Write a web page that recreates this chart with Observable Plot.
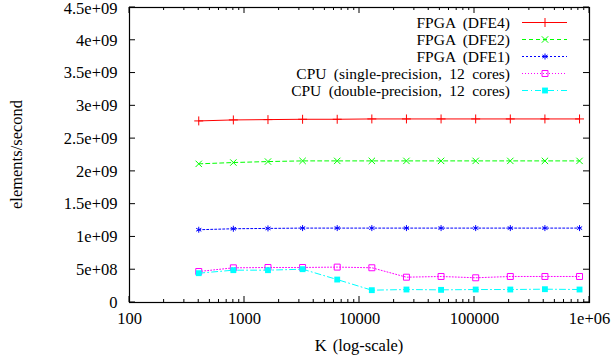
<!DOCTYPE html>
<html><head><meta charset="utf-8">
<script src="https://cdn.jsdelivr.net/npm/d3@7"></script>
<script src="https://cdn.jsdelivr.net/npm/@observablehq/plot@0.6"></script>
<style>body{margin:0;background:#fff}</style>
</head><body><div id="chart"></div>
<script>
const K = [400, 800, 1600, 3200, 6400, 12800, 25600, 51200, 102400, 204800, 409600, 819200];
const dfe4 = [2.77, 2.785, 2.79, 2.795, 2.795, 2.80, 2.80, 2.80, 2.80, 2.80, 2.80, 2.80];
const dfe2 = [2.115, 2.135, 2.15, 2.16, 2.16, 2.16, 2.16, 2.16, 2.16, 2.16, 2.16, 2.16];
const dfe1 = [1.11, 1.125, 1.13, 1.135, 1.135, 1.135, 1.135, 1.135, 1.135, 1.135, 1.135, 1.135];
const cpuSingle = [0.473, 0.529, 0.534, 0.534, 0.54, 0.53, 0.386, 0.397, 0.377, 0.397, 0.397, 0.397];
const cpuDouble = [0.447, 0.493, 0.493, 0.508, 0.35, 0.188, 0.198, 0.193, 0.198, 0.198, 0.203, 0.198];
const seriesNames = ["FPGA (DFE4)", "FPGA (DFE2)", "FPGA (DFE1)", "CPU (single-precision, 12 cores)", "CPU (double-precision, 12 cores)"];
const seriesValues = [dfe4, dfe2, dfe1, cpuSingle, cpuDouble];
const seriesColors = ["#ff0000", "#00ff00", "#0000ff", "#ff00ff", "#00ffff"];
const seriesDash = [null, "4,3", "2,2", "1,2", "6,3,1,3"];
const seriesSymbols = ["plus", "times", "asterisk", "square2", "square"];
const seriesR = [3, 3, 2.8, 3.8, 3.3];
const xTicks = [100, 1000, 10000, 100000, 1000000];
const xTickLabels = ["100", "1000", "10000", "100000", "1e+06"];
const yTicks = [0, 0.5e9, 1e9, 1.5e9, 2e9, 2.5e9, 3e9, 3.5e9, 4e9, 4.5e9];
const yTickLabels = ["0", "5e+08", "1e+09", "1.5e+09", "2e+09", "2.5e+09", "3e+09", "3.5e+09", "4e+09", "4.5e+09"];
const xMinor = [];
for (const d of [100, 1000, 10000, 100000]) for (let m = 2; m <= 9; m++) xMinor.push(d * m);

const FONT = "Liberation Serif", FS = 16.5, LFS = 15.5;
const marks = [];
seriesNames.forEach((name, i) => {
  const data = K.map((k, j) => ({k, v: seriesValues[i][j] * 1e9}));
  marks.push(Plot.line(data, {x: "k", y: "v", stroke: seriesColors[i], strokeWidth: 1, strokeDasharray: seriesDash[i] || undefined}));
  const filled = seriesSymbols[i] === "square";
  marks.push(Plot.dot(data, filled
    ? {x: "k", y: "v", symbol: seriesSymbols[i], fill: seriesColors[i], r: seriesR[i]}
    : {x: "k", y: "v", symbol: seriesSymbols[i], stroke: seriesColors[i], strokeWidth: 1, r: seriesR[i]}));
});

const W = 613, H = 360, mL = 129, mR = 24, mT = 7, mB = 58;
const svg = Plot.plot({
  width: W, height: H,
  marginLeft: mL, marginRight: mR, marginTop: mT, marginBottom: mB,
  style: {fontFamily: FONT, fontSize: FS + "px", color: "#000", background: "#fff"},
  x: {type: "log", domain: [100, 1e6]},
  y: {domain: [0, 4.5e9]},
  marks: [
    ...marks,
    Plot.axisX(xTicks, {tickSize: 0, tickPadding: 10, tickFormat: d => xTickLabels[xTicks.indexOf(d)], label: null}),
    Plot.axisY(yTicks, {tickSize: 0, tickPadding: 12, tickFormat: d => yTickLabels[yTicks.indexOf(d)], label: null}),
    Plot.frame({stroke: "#000", strokeWidth: 1.2})
  ]
});
document.getElementById("chart").appendChild(svg);

// nudge the topmost y tick label so it is not clipped by the top edge
d3.select(svg).selectAll("text").filter(function() { return this.textContent === yTickLabels[yTickLabels.length - 1]; })
  .attr("transform", function() { return (this.getAttribute("transform") || "") + " translate(0,1.5)"; });

const sx = svg.scale("x"), sy = svg.scale("y");
const g = d3.select(svg).append("g").attr("stroke", "#000").attr("stroke-width", 1);
const fTop = mT, fBot = H - mB, fLeft = mL, fRight = W - mR;
for (const t of xTicks) {
  const x = sx.apply(t);
  g.append("line").attr("x1", x).attr("x2", x).attr("y1", fBot).attr("y2", fBot - 6);
  g.append("line").attr("x1", x).attr("x2", x).attr("y1", fTop).attr("y2", fTop + 6);
}
for (const t of xMinor) {
  const x = sx.apply(t);
  g.append("line").attr("x1", x).attr("x2", x).attr("y1", fBot).attr("y2", fBot - 3);
  g.append("line").attr("x1", x).attr("x2", x).attr("y1", fTop).attr("y2", fTop + 3);
}
for (const t of yTicks) {
  const y = sy.apply(t);
  g.append("line").attr("x1", fLeft).attr("x2", fLeft + 6).attr("y1", y).attr("y2", y);
  g.append("line").attr("x1", fRight).attr("x2", fRight - 6).attr("y1", y).attr("y2", y);
}

// axis titles
const lab = d3.select(svg).append("g").attr("font-family", FONT).attr("font-size", FS).attr("fill", "#000");
lab.append("text").attr("x", (fLeft + fRight) / 2).attr("y", 345).attr("dy", "0.35em").attr("text-anchor", "middle").attr("word-spacing", "2px").text("K (log-scale)");
lab.append("text").attr("transform", `translate(16,${(fTop + fBot) / 2}) rotate(-90)`).attr("dy", "0.35em").attr("text-anchor", "middle").text("elements/second");

// legend
const symMap = {plus: d3.symbolPlus, times: d3.symbolTimes, asterisk: d3.symbolAsterisk, square2: d3.symbolSquare2, square: d3.symbolSquare};
const lg = d3.select(svg).append("g").attr("font-family", FONT).attr("font-size", LFS);
seriesNames.forEach((name, i) => {
  const y = 22.5 + i * 17;
  lg.append("text").attr("x", 510).attr("y", y).attr("dy", "0.35em").attr("text-anchor", "end").attr("fill", "#000")
    .attr("word-spacing", "3.5px").text(name);
  lg.append("line").attr("x1", 522).attr("x2", 567).attr("y1", y).attr("y2", y)
    .attr("stroke", seriesColors[i]).attr("stroke-width", 1).attr("stroke-dasharray", seriesDash[i]);
  const filled = seriesSymbols[i] === "square";
  lg.append("path").attr("transform", `translate(545,${y})`)
    .attr("d", d3.symbol(symMap[seriesSymbols[i]], Math.PI * seriesR[i] * seriesR[i])())
    .attr("fill", filled ? seriesColors[i] : "none").attr("stroke", filled ? "none" : seriesColors[i]).attr("stroke-width", 1);
});
</script>
</body></html>
